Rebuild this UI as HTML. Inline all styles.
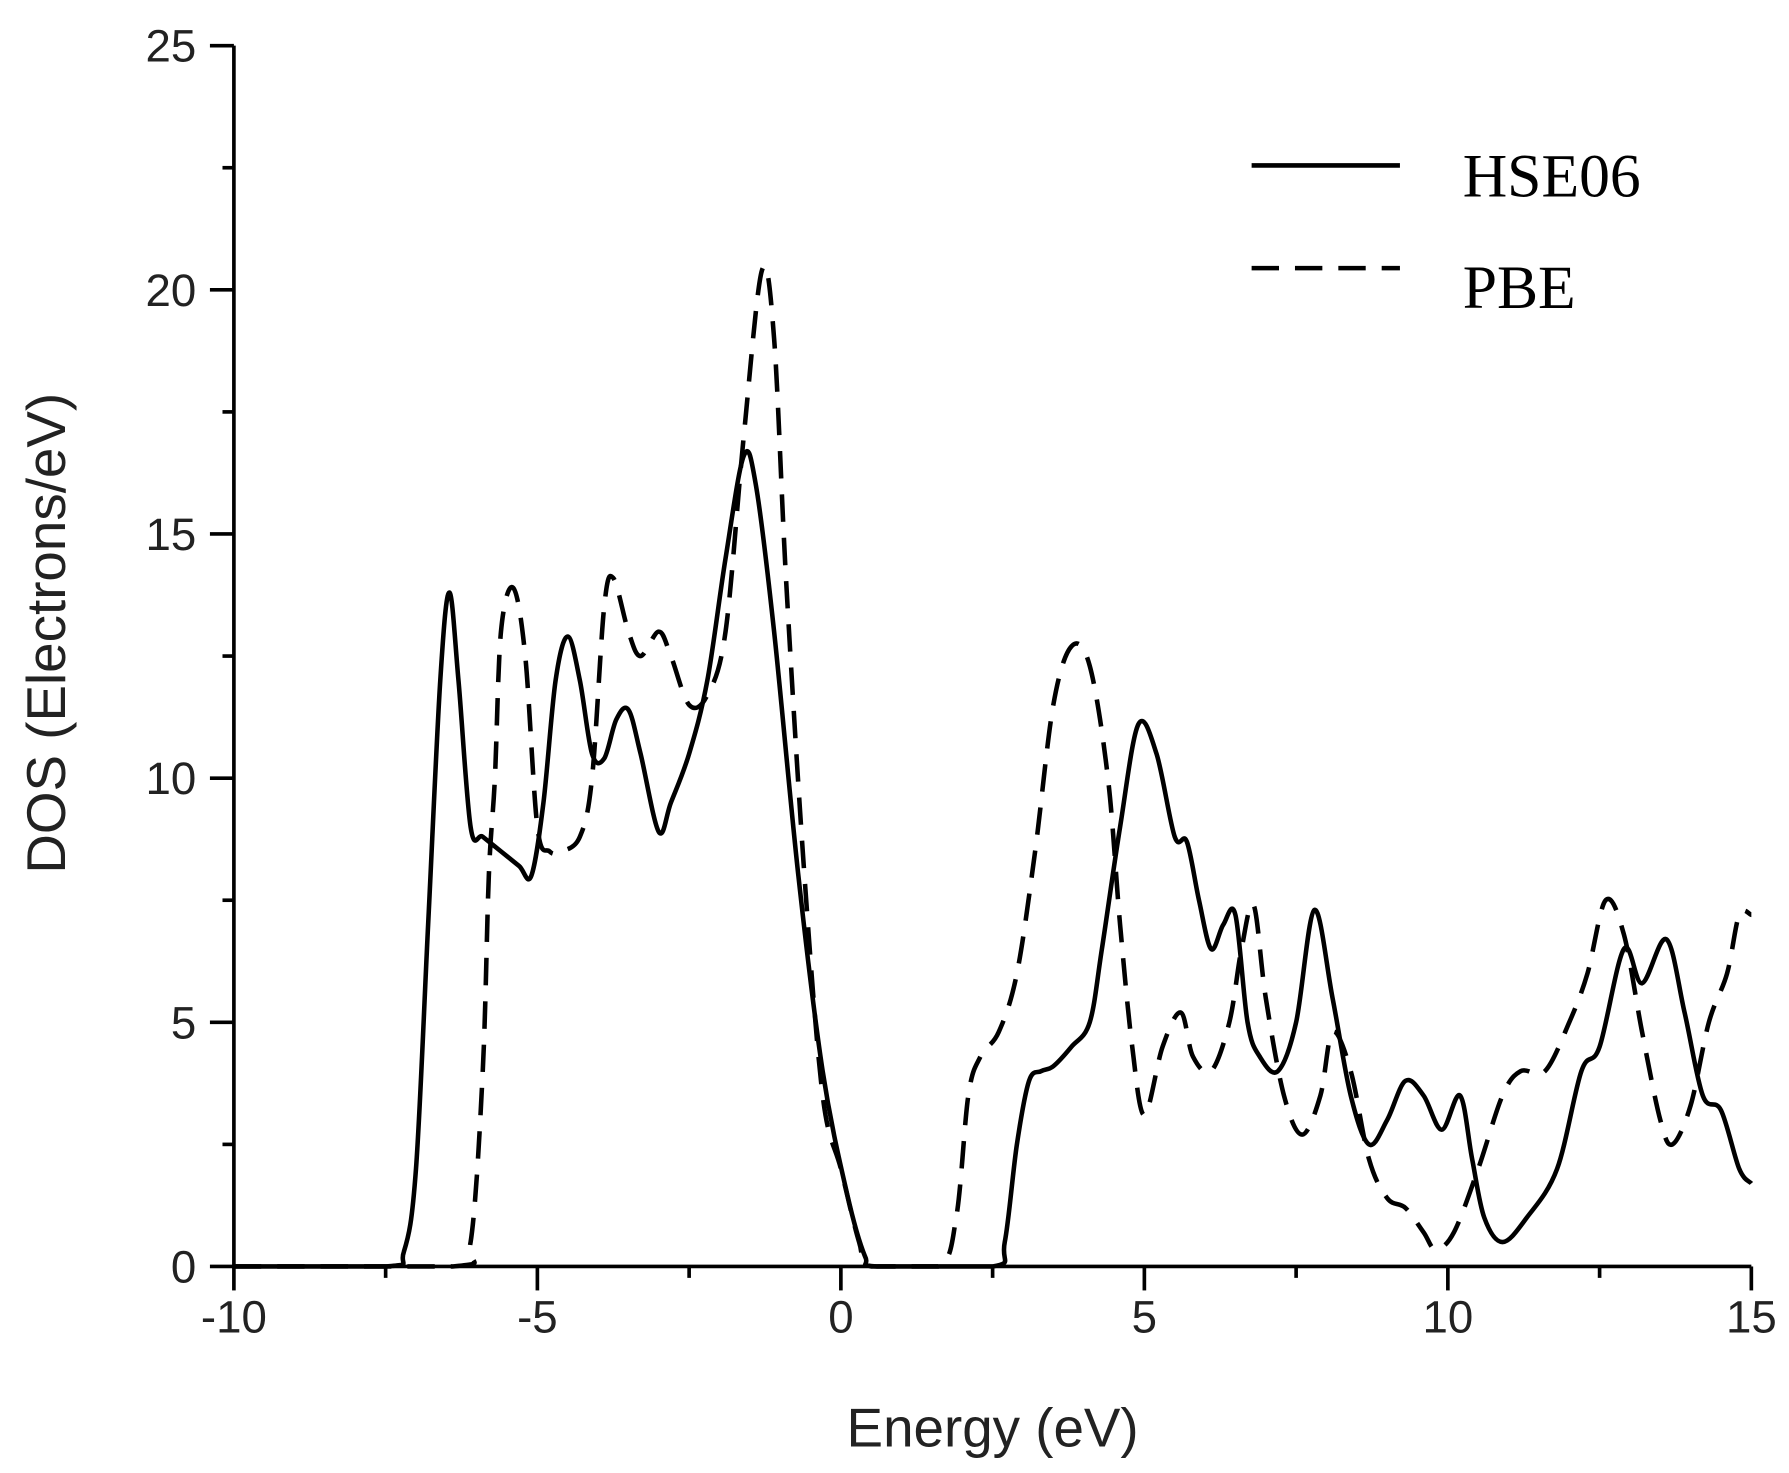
<!DOCTYPE html>
<html><head><meta charset="utf-8"><style>
html,body{margin:0;padding:0;background:#fff;}
svg{display:block;}
</style></head><body>
<svg id="s" width="1789" height="1473" viewBox="0 0 1568 1291" xmlns="http://www.w3.org/2000/svg">
<g id="axes" stroke="#000" stroke-width="3.2" fill="none"></g>
<g font-family="Liberation Sans, Arial, sans-serif" fill="#222" font-size="40" id="lbl"></g>
<text x="870" y="1268" font-family="Liberation Sans, Arial, sans-serif" font-size="48" fill="#222" text-anchor="middle">Energy (eV)</text>
<text transform="translate(57,555) rotate(-90)" font-family="Liberation Sans, Arial, sans-serif" font-size="48" fill="#222" text-anchor="middle">DOS (Electrons/eV)</text>
<path id="hse" fill="none" stroke="#000" stroke-width="4"/>
<path id="pbe" fill="none" stroke="#000" stroke-width="4" stroke-dasharray="24,14"/>
<line x1="1097" y1="145" x2="1227" y2="145" stroke="#000" stroke-width="4"/>
<line x1="1097" y1="235" x2="1227" y2="235" stroke="#000" stroke-width="4" stroke-dasharray="24,14"/>
<text x="1282" y="172" font-family="Liberation Serif, serif" font-size="54" fill="#000">HSE06</text>
<text x="1282" y="270" font-family="Liberation Serif, serif" font-size="54" fill="#000">PBE</text>
</svg>
<script>
var X=function(e){return 205+53.2*(e+10)},Y=function(d){return 1110-42.8*d};
var ax=document.getElementById('axes'),lb=document.getElementById('lbl'),ns='http://www.w3.org/2000/svg';
function L(a,b,c,d){var l=document.createElementNS(ns,'line');l.setAttribute('x1',a);l.setAttribute('y1',b);l.setAttribute('x2',c);l.setAttribute('y2',d);ax.appendChild(l);}
function T(x,y,t,an){var e=document.createElementNS(ns,'text');e.setAttribute('x',x);e.setAttribute('y',y);e.setAttribute('text-anchor',an);e.textContent=t;lb.appendChild(e);}
L(203.5,1110,1535,1110);L(205,1111.5,205,40);
for(var e=-10;e<=15;e+=2.5){var maj=(e%5===0);L(X(e),1110,X(e),1110+(maj?21:10));if(maj)T(X(e),1168,String(e),'middle');}
for(var d=0;d<=25;d+=2.5){var maj=(d%5===0);L(205,Y(d),205-(maj?21:10),Y(d));if(maj)T(172,Y(d)+14,String(d),'end');}
function cy(v){return Math.min(v,1110);}
function path(p){var s='M'+X(p[0][0])+','+Y(p[0][1]);for(var i=0;i<p.length-1;i++){var p0=p[Math.max(i-1,0)],p1=p[i],p2=p[i+1],p3=p[Math.min(i+2,p.length-1)];
var x0=X(p0[0]),y0=Y(p0[1]),x1=X(p1[0]),y1=Y(p1[1]),x2=X(p2[0]),y2=Y(p2[1]),x3=X(p3[0]),y3=Y(p3[1]);
s+=' C'+(x1+(x2-x0)/6)+','+cy(y1+(y2-y0)/6)+' '+(x2-(x3-x1)/6)+','+cy(y2-(y3-y1)/6)+' '+x2+','+y2;}return s;}
var H=[[-10,0],[-7.5,0],[-7.2,0.3],[-7,2],[-6.8,7],[-6.6,12],[-6.45,13.8],[-6.3,12],[-6.1,9],[-5.9,8.8],[-5.6,8.5],[-5.3,8.2],[-5.1,8],[-4.9,9.5],[-4.7,12],[-4.5,12.9],[-4.3,12],[-4.1,10.5],[-3.9,10.4],[-3.7,11.2],[-3.5,11.4],[-3.3,10.5],[-3.0,8.9],[-2.8,9.5],[-2.5,10.5],[-2.2,12],[-1.9,14.5],[-1.6,16.6],[-1.4,16],[-1.1,13],[-0.7,8],[-0.3,4],[0.1,1.5],[0.4,0.2],[0.6,0],[2.5,0],[2.7,0.5],[2.9,2.5],[3.1,3.8],[3.3,4],[3.5,4.1],[3.8,4.5],[4.1,5],[4.3,6.5],[4.6,9],[4.9,11.1],[5.2,10.5],[5.5,8.8],[5.7,8.7],[5.9,7.5],[6.1,6.5],[6.3,7],[6.5,7.2],[6.7,5],[6.9,4.3],[7.2,4.0],[7.5,5],[7.8,7.3],[8.1,5.5],[8.4,3.5],[8.7,2.5],[9.0,3],[9.3,3.8],[9.6,3.5],[9.9,2.8],[10.2,3.5],[10.4,2.2],[10.6,1],[10.9,0.5],[11.3,1],[11.8,2],[12.2,4],[12.5,4.5],[12.9,6.5],[13.2,5.8],[13.6,6.7],[13.9,5.2],[14.2,3.5],[14.5,3.2],[14.8,2],[15,1.7]];
var P=[[-10,0],[-6.4,0],[-6.1,0.5],[-5.9,4],[-5.8,8],[-5.7,10],[-5.6,13],[-5.4,13.9],[-5.2,12.5],[-5.0,9],[-4.8,8.5],[-4.6,8.5],[-4.3,8.8],[-4.1,10],[-3.9,13.5],[-3.75,14.1],[-3.5,13],[-3.3,12.5],[-3,13],[-2.8,12.5],[-2.5,11.5],[-2.2,11.7],[-1.9,13],[-1.6,17],[-1.3,20.4],[-1.1,19],[-0.9,14],[-0.6,8],[-0.3,3.5],[0,2],[0.3,0.5],[0.5,0],[1.6,0],[1.9,1],[2.1,3.5],[2.3,4.3],[2.6,4.8],[2.9,6],[3.2,8.5],[3.5,11.5],[3.8,12.7],[4.1,12.3],[4.4,10],[4.6,7],[4.8,4.5],[5.0,3.1],[5.3,4.5],[5.6,5.2],[5.8,4.3],[6.1,4],[6.4,5],[6.6,6.5],[6.8,7.4],[7.0,5.5],[7.3,3.5],[7.6,2.7],[7.9,3.5],[8.1,4.8],[8.4,4],[8.7,2.2],[9,1.4],[9.3,1.2],[9.6,0.7],[9.8,0.35],[10.1,0.7],[10.5,2],[10.9,3.5],[11.2,4],[11.6,4],[12,5],[12.3,6],[12.6,7.5],[12.9,6.8],[13.2,4.8],[13.5,3],[13.7,2.5],[14,3.3],[14.3,5],[14.6,6],[14.8,7.2],[15,7.2]];
document.getElementById('hse').setAttribute('d',path(H));
document.getElementById('pbe').setAttribute('d',path(P));
</script>
</body></html>
